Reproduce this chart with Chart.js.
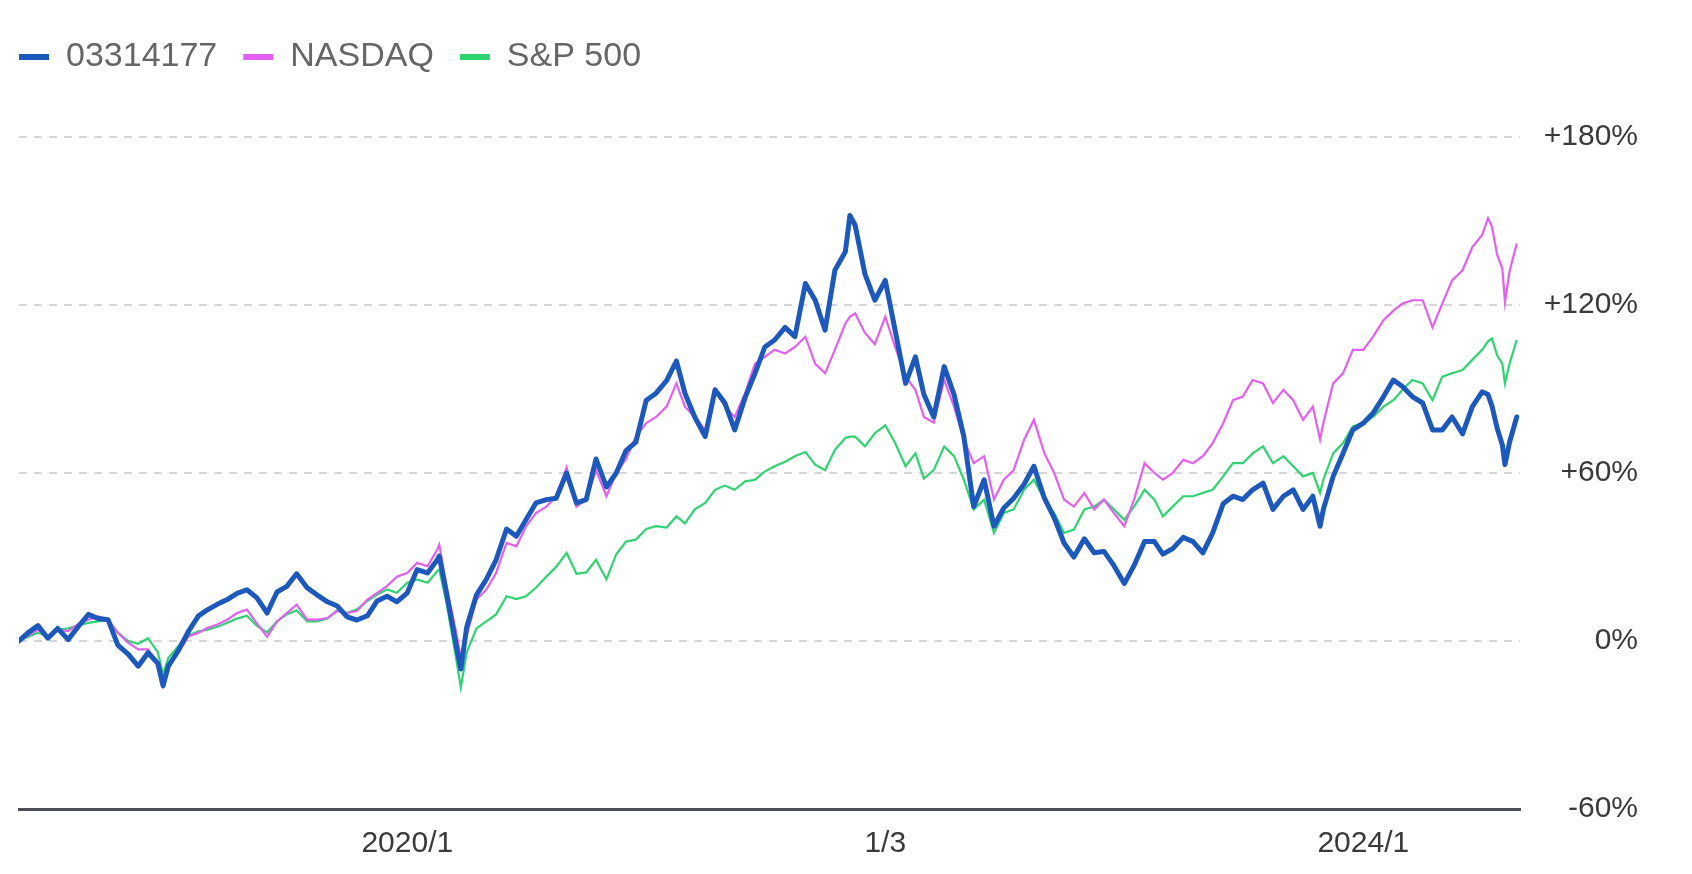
<!DOCTYPE html>
<html lang="ja">
<head>
<meta charset="utf-8">
<title>03314177 / NASDAQ / S&amp;P 500</title>
<script src="https://cdn.jsdelivr.net/npm/chart.js@4.4.1/dist/chart.umd.min.js"></script>
<style>
    html, body { margin: 0; padding: 0; background: #fff; }
    #wrap { width: 1692px; height: 874px; }
</style>
</head>
<body>
<div id="wrap"><canvas id="perfChart" width="1692" height="874"></canvas></div>
<script>
// --- data (cumulative return in %) ---
const seriesLabels = ['03314177', 'NASDAQ', 'S&P 500'];

const dates = [
    '2018-05-18','2018-06-01','2018-06-16','2018-07-01','2018-07-16','2018-08-01','2018-08-16','2018-09-01','2018-09-16','2018-10-01','2018-10-16','2018-11-01','2018-11-16','2018-12-01','2018-12-16','2018-12-24',
    '2019-01-01','2019-01-16','2019-02-01','2019-02-16','2019-03-01','2019-03-16','2019-04-01','2019-04-16','2019-05-01','2019-05-16','2019-06-01','2019-06-16','2019-07-01','2019-07-16','2019-08-01','2019-08-16','2019-09-01','2019-09-16','2019-10-01','2019-10-16','2019-11-01','2019-11-16','2019-12-01','2019-12-16',
    '2020-01-01','2020-01-16','2020-02-01','2020-02-16','2020-02-19','2020-03-01','2020-03-16','2020-03-23','2020-04-01','2020-04-16','2020-05-01','2020-05-16','2020-06-01','2020-06-16','2020-07-01','2020-07-16','2020-08-01','2020-08-16','2020-09-01','2020-09-16','2020-10-01','2020-10-16','2020-11-01','2020-11-16','2020-12-01','2020-12-16',
    '2021-01-01','2021-01-16','2021-02-01','2021-02-16','2021-03-01','2021-03-16','2021-04-01','2021-04-16','2021-05-01','2021-05-16','2021-06-01','2021-06-16','2021-07-01','2021-07-16','2021-08-01','2021-08-16','2021-09-01','2021-09-16','2021-10-01','2021-10-16','2021-11-01','2021-11-08','2021-11-16','2021-12-01','2021-12-16',
    '2022-01-01','2022-01-16','2022-02-01','2022-02-16','2022-03-01','2022-03-16','2022-04-01','2022-04-16','2022-05-01','2022-05-16','2022-06-01','2022-06-16','2022-07-01','2022-07-16','2022-08-01','2022-08-16','2022-09-01','2022-09-16','2022-10-01','2022-10-16','2022-11-01','2022-11-16','2022-12-01','2022-12-16',
    '2023-01-01','2023-01-16','2023-02-01','2023-02-16','2023-03-01','2023-03-16','2023-04-01','2023-04-16','2023-05-01','2023-05-16','2023-06-01','2023-06-16','2023-07-01','2023-07-16','2023-08-01','2023-08-16','2023-09-01','2023-09-16','2023-10-01','2023-10-16','2023-10-27','2023-11-01','2023-11-16','2023-12-01','2023-12-16',
    '2024-01-01','2024-01-16','2024-02-01','2024-02-16','2024-03-01','2024-03-16','2024-04-01','2024-04-16','2024-05-01','2024-05-16','2024-06-01','2024-06-16','2024-07-01','2024-07-10','2024-07-16','2024-07-24','2024-08-01','2024-08-05','2024-08-12','2024-08-23'
];

const fundValues = [
    0, 3, 5.5, 1, 4.5, 0.5, 5, 9.5, 8, 7.6, -1.5, -4.8, -9, -4.2, -8, -16,
    -9, -3.5, 3.5, 9, 11, 13, 14.8, 17, 18.3, 15.5, 10, 17.5, 19.5, 24, 19, 16.5, 14, 12.5, 8.6, 7.5, 9, 14.3, 16, 14,
    17.2, 25.5, 24.3, 29, 30.3, 17.2, -1.8, -10, 5, 16.5, 22, 29, 40, 37.4, 43.4, 49.3, 50.5, 51, 60, 49.3, 50.5, 65, 55, 60, 68, 71,
    86, 88.5, 93, 100, 88.5, 80, 73, 89.7, 85, 75.4, 87, 95.6, 105, 107.5, 112, 108.7, 127.7, 121.7, 111, 132.4, 139, 152, 148.5, 131, 121.7,
    128.8, 111, 92, 101.5, 88, 80, 98, 88, 73, 48, 57.6, 41, 47.5, 51, 56, 62.4, 51, 44, 35, 30, 36.5, 31.5, 32, 27,
    20.5, 27, 35.5, 35.5, 31, 33, 37, 35.5, 31.5, 38.6, 49, 51.7, 50.5, 54, 56.4, 47, 51.7, 54, 47, 51.7, 41, 47, 58.8, 67, 75.4,
    77.8, 81.4, 87.3, 93.2, 90.9, 87.3, 85, 75.4, 75.4, 80, 74, 83.7, 89, 88, 84, 76, 70, 63, 71, 80
];

const nasdaqValues = [
    0, 2, 4, 1.7, 4, 3.5, 6, 7.6, 8.8, 7.6, 2.9, -0.7, -3, -3, -7.9, -16,
    -9, -4.3, 1.7, 2.9, 4.6, 5.8, 7.6, 10, 11.2, 6.4, 1.5, 7, 10, 13, 7.6, 7.6, 8.2, 10.7, 10, 10.7, 14.8, 17.2, 19.6, 23,
    24.3, 27.9, 26.7, 32.7, 34.4, 19.6, 3, -6, 2, 14.8, 18.4, 24.3, 35, 33.8, 41, 45.7, 48, 51.7, 62, 48, 50.5, 61, 51.7, 60, 65, 73,
    77.8, 80, 83.7, 92, 83.7, 80, 75.4, 89.7, 83.7, 80, 88.5, 99, 101.5, 104, 102.7, 105, 108.7, 99, 95.6, 104, 113.4, 115.8, 117, 110, 106,
    115.8, 105, 94.4, 89.7, 80, 78, 93.2, 83.7, 71.9, 63.5, 66, 50.5, 57.6, 61, 71.9, 79, 67, 60, 50.5, 48, 52.9, 47, 50.5, 45.7,
    41, 50.5, 63.5, 60, 57.6, 60, 64.7, 63.5, 66, 70.7, 77.8, 86, 87.3, 93.2, 92, 85, 89.7, 86, 79, 83.7, 71.9, 77.8, 92, 95.6, 104,
    104, 108.7, 114.6, 118, 120.5, 121.7, 121.7, 112, 120.5, 128.8, 132.4, 140.7, 145, 151, 148, 138, 133, 121, 132, 142
];

const spValues = [
    0, 1.5, 3, 1.5, 4, 4.5, 5.5, 6.5, 7, 7.5, 3, 0, -1, 1, -4, -12,
    -6, -2, 2, 3.5, 4, 5, 6.5, 8, 9, 5.5, 3, 7, 9.5, 11, 7, 7, 8, 11, 10, 11.3, 14.3, 16.6, 18.4, 17.2,
    20.8, 22, 20.8, 25, 25.5, 13.7, -6.5, -16.6, -4, 4.5, 7, 9.5, 16, 15, 16, 19, 23, 26.5, 31.5, 24, 24.5, 29, 22, 31, 35.5, 36.2,
    40, 41, 40.5, 44.5, 42, 47, 49.3, 54, 55.5, 54, 57, 57.6, 60.5, 62.4, 64, 66, 67.5, 63, 61, 68.3, 72.5, 73, 73, 69.5, 74.2,
    77, 70.7, 62.4, 67, 58, 61, 69.5, 66, 57.6, 47, 50.5, 38.6, 45.7, 47, 54, 57.6, 50.5, 45.7, 38.6, 39.8, 47, 48, 50.5, 47,
    43.3, 48, 54, 50.5, 44.5, 48, 51.7, 51.7, 52.9, 54, 58.8, 63.5, 63.5, 67, 69.5, 63.5, 66, 62.4, 58.8, 60, 52.9, 57.6, 67, 70.7, 76.6,
    77.8, 80, 83.7, 86, 89.7, 93.2, 92, 86, 94.4, 95.6, 96.8, 100.4, 104, 107, 108, 102, 99, 92, 99, 107.5
];

const xTickDates = ['2020-01-01', '2022-01-01', '2024-01-01'];
const xTickLabels = ['2020/1', '1/3', '2024/1'];
const xRange = ['2018-05-18', '2024-08-28'];
const yTickValues = [-60, 0, 60, 120, 180];

// --- helpers ---
const FONT = "'Liberation Sans', Arial, sans-serif";

function toYear(s) {
    const [y, m, d] = s.split('-').map(Number);
    const start = Date.UTC(y, 0, 1);
    const end = Date.UTC(y + 1, 0, 1);
    return y + (Date.UTC(y, m - 1, d) - start) / (end - start);
}

function toPoints(values) {
    return values.map((v, i) => ({ x: toYear(dates[i]), y: v }));
}

[fundValues, nasdaqValues, spValues].forEach((arr, i) => {
    if (arr.length !== dates.length) console.error(seriesLabels[i], arr.length, dates.length);
});

// legend sits flush left and leaves room above the plot
const legendTweak = {
    id: 'legendTweak',
    beforeInit(chart) {
        const legend = chart.legend;
        if (!legend) return;
        const fit = legend.fit;
        legend.fit = function () {
            fit.call(this);
            this.height = 123;
        };
    },
    afterLayout(chart) {
        if (chart.legend) chart.legend.left -= chart.legend.options.labels.padding;
    }
};

const perfCtx = document.getElementById('perfChart');
if (perfCtx) {
    new Chart(perfCtx, {
        type: 'line',
        data: {
            datasets: [
                {
                    label: seriesLabels[0],
                    data: toPoints(fundValues),
                    borderColor: '#1d58bd',
                    backgroundColor: '#1d58bd',
                    borderWidth: 5,
                    pointRadius: 0,
                    tension: 0,
                    borderJoinStyle: 'round',
                    borderCapStyle: 'round'
                },
                {
                    label: seriesLabels[1],
                    data: toPoints(nasdaqValues),
                    borderColor: '#e35ff0',
                    backgroundColor: '#e35ff0',
                    borderWidth: 2.2,
                    pointRadius: 0,
                    tension: 0
                },
                {
                    label: seriesLabels[2],
                    data: toPoints(spValues),
                    borderColor: '#2fd471',
                    backgroundColor: '#2fd471',
                    borderWidth: 2.2,
                    pointRadius: 0,
                    tension: 0
                }
            ]
        },
        options: {
            responsive: false,
            animation: false,
            layout: {
                padding: { left: 19, right: 54, top: 14, bottom: 10 }
            },
            plugins: {
                legend: {
                    align: 'start',
                    labels: {
                        boxWidth: 30,
                        boxHeight: 6,
                        padding: 26,
                        color: '#666666',
                        font: { family: FONT, size: 34 },
                        generateLabels(chart) {
                            return chart.data.datasets.map((ds, i) => ({
                                text: ds.label,
                                fillStyle: ds.borderColor,
                                strokeStyle: ds.borderColor,
                                lineWidth: 0,
                                hidden: false,
                                datasetIndex: i,
                                fontColor: '#666666'
                            }));
                        }
                    }
                },
                tooltip: { enabled: false }
            },
            scales: {
                x: {
                    type: 'linear',
                    min: toYear(xRange[0]),
                    max: toYear(xRange[1]),
                    afterBuildTicks(scale) {
                        scale.ticks = xTickDates.map(d => ({ value: toYear(d) }));
                    },
                    afterFit(scale) {
                        scale.height = 55;
                    },
                    grid: {
                        drawOnChartArea: false,
                        drawTicks: false
                    },
                    border: {
                        display: true,
                        color: '#4a4e55',
                        width: 3
                    },
                    ticks: {
                        autoSkip: false,
                        maxRotation: 0,
                        padding: 17,
                        color: '#3a3a3a',
                        font: { family: FONT, size: 30 },
                        callback: (value, index) => xTickLabels[index]
                    }
                },
                y: {
                    position: 'right',
                    min: yTickValues[0],
                    max: yTickValues[yTickValues.length - 1],
                    afterBuildTicks(scale) {
                        scale.ticks = yTickValues.map(v => ({ value: v }));
                    },
                    afterFit(scale) {
                        scale.width = 118;
                    },
                    grid: {
                        drawTicks: false,
                        lineWidth: 2,
                        color: ctx => (ctx.tick && ctx.tick.value === yTickValues[0]) ? 'rgba(0,0,0,0)' : '#d6d6d6'
                    },
                    border: {
                        display: false,
                        dash: [8, 7]
                    },
                    ticks: {
                        crossAlign: 'far',
                        padding: 24,
                        color: '#3a3a3a',
                        font: { family: FONT, size: 30 },
                        callback: v => (v > 0 ? '+' : '') + v + '%'
                    }
                }
            }
        },
        plugins: [legendTweak]
    });
}
</script>
</body>
</html>
